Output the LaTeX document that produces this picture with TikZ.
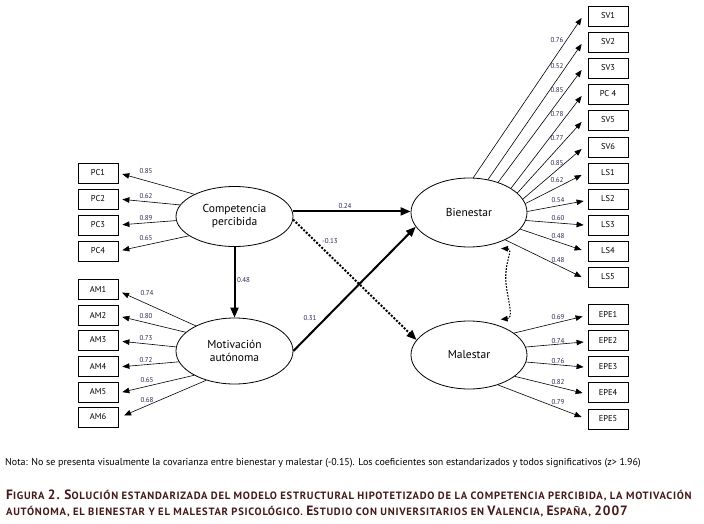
\documentclass[tikz,border=0pt]{standalone}
\usepackage{fontspec}
\setmainfont{PT Sans}
\usetikzlibrary{shapes.geometric,arrows.meta,calc}
\definecolor{coefc}{RGB}{40,40,85}
\definecolor{capc}{RGB}{70,25,25}
\newcommand\Cp[1]{{\fontsize{13.5}{15}\selectfont #1}}
\begin{document}
\begin{tikzpicture}[x=1pt,y=-1pt,
  lat/.style={ellipse,draw,line width=0.8pt,inner sep=0pt,align=center,font=\fontsize{11.5}{13}\selectfont},
  obs/.style={draw,line width=0.8pt,minimum width=40pt,minimum height=20pt,inner sep=0pt,font=\fontsize{8.5}{10}\selectfont},
  ld/.style={-{Triangle[length=7pt,width=5.5pt]},line width=0.6pt},
  ldl/.style={ld,shorten >=4pt},
  coef/.style={font=\fontsize{7}{8}\selectfont,text=coefc,inner sep=0pt},
  pth/.style={-{Triangle[length=10pt,width=8pt]},line width=2pt},
  pthd/.style={pth,dash pattern=on 2pt off 1.6pt},
  cov/.style={{Triangle[length=7pt,width=5.5pt]}-{Triangle[length=7pt,width=5.5pt]},line width=1.1pt,dash pattern=on 1.6pt off 1.4pt},
  captxt/.style={anchor=west,inner sep=0pt,text=capc,font=\fontsize{10.6}{14}\selectfont\bfseries\addfontfeature{LetterSpace=7}}
]
\useasboundingbox (0,0) rectangle (704,524);
% latent variables
\node[lat,minimum width=117pt,minimum height=60pt] (cp) at (234.5,216.5) {Competencia\\percibida};
\node[lat,minimum width=117pt,minimum height=66pt] (ma) at (234.5,351) {Motivación\\autónoma};
\node[lat,minimum width=116pt,minimum height=69pt] (bien) at (469,212.5) {Bienestar};
\node[lat,minimum width=116pt,minimum height=68pt] (mal) at (469,355) {Malestar};
% left indicators
\node[obs] (pc1) at (98,173) {PC1};
\node[obs] (pc2) at (98,199) {PC2};
\node[obs] (pc3) at (98,225) {PC3};
\node[obs] (pc4) at (98,251) {PC4};
\node[obs] (am1) at (98,289) {AM1};
\node[obs] (am2) at (98,315) {AM2};
\node[obs] (am3) at (98,340) {AM3};
\node[obs] (am4) at (98,366) {AM4};
\node[obs] (am5) at (98,392) {AM5};
\node[obs] (am6) at (98,417) {AM6};
% right indicators
\node[obs] (sv1) at (608,16) {SV1};
\node[obs] (sv2) at (608,42) {SV2};
\node[obs] (sv3) at (608,68) {SV3};
\node[obs] (pc4b) at (608,94) {PC 4};
\node[obs] (sv5) at (608,120) {SV5};
\node[obs] (sv6) at (608,147) {SV6};
\node[obs] (ls1) at (608,173) {LS1};
\node[obs] (ls2) at (608,199) {LS2};
\node[obs] (ls3) at (608,225) {LS3};
\node[obs] (ls4) at (608,251) {LS4};
\node[obs] (ls5) at (608,277) {LS5};
\node[obs] (epe1) at (608,314.5) {EPE1};
\node[obs] (epe2) at (608,340.5) {EPE2};
\node[obs] (epe3) at (608,366.5) {EPE3};
\node[obs] (epe4) at (608,392.5) {EPE4};
\node[obs] (epe5) at (608,419) {EPE5};
% loadings left
\draw[ldl] (cp.151) -- (pc1.east);
\draw[ldl] (cp.168) -- (pc2.east);
\draw[ldl] (cp.184.5) -- (pc3.east);
\draw[ldl] (cp.203) -- (pc4.east);
\draw[ldl] (ma.147) -- ([yshift=-2pt]am1.east);
\draw[ldl] (ma.159) -- ([yshift=-1pt]am2.east);
\draw[ldl] (ma.176) -- ([yshift=-1pt]am3.east);
\draw[ldl] (ma.191) -- ([yshift=-1pt]am4.east);
\draw[ldl] (ma.211) -- ([yshift=-1pt]am5.east);
\draw[ldl] (ma.226) -- ([xshift=2pt]am6.east);
% loadings right
\draw[ld] (bien.83.5) -- ([xshift=-6pt,yshift=-2pt]sv1.west);
\draw[ld] (bien.60.5) -- ([xshift=-6pt,yshift=-2pt]sv2.west);
\draw[ld] (bien.46) -- ([xshift=-6pt,yshift=-2pt]sv3.west);
\draw[ld] (bien.30) -- ([xshift=-6pt,yshift=-2pt]pc4b.west);
\draw[ld] (bien.22.6) -- ([xshift=-6pt,yshift=-2pt]sv5.west);
\draw[ld] (bien.14.5) -- ([xshift=-6pt,yshift=-2pt]sv6.west);
\draw[ld] (bien.9) -- ([xshift=-6pt,yshift=-2pt]ls1.west);
\draw[ld] (bien.1) -- ([xshift=-4pt,yshift=-2pt]ls2.west);
\draw[ld] (bien.-8) -- ([xshift=-4pt]ls3.west);
\draw[ld] (bien.-18.4) -- ([xshift=-6pt,yshift=1pt]ls4.west);
\draw[ld] (bien.-37.6) -- ([xshift=-6pt]ls5.west);
\draw[ld] (mal.26.6) -- ([xshift=-5pt,yshift=-2pt]epe1.west);
\draw[ld] (mal.8) -- ([xshift=-4pt,yshift=-1.5pt]epe2.west);
\draw[ld] (mal.-7) -- ([xshift=-4pt,yshift=-0.5pt]epe3.west);
\draw[ld] (mal.-25.6) -- ([xshift=-5pt,yshift=-0.5pt]epe4.west);
\draw[ld] (mal.-46) -- ([xshift=-6pt,yshift=2pt]epe5.west);
% loading coefficients
\node[coef] (l1) at (146,171.5) {0.85};
\node[coef] (l2) at (146,196.5) {0.62};
\node[coef] (l3) at (146,218.5) {0.89};
\node[coef] (l4) at (146,238.5) {0.65};
\node[coef] (l5) at (147,293) {0.74};
\node[coef] (l6) at (146,316) {0.80};
\node[coef] (l7) at (146,338) {0.73};
\node[coef] (l8) at (146,360) {0.72};
\node[coef] (l9) at (147,380) {0.65};
\node[coef] (l10) at (147,400) {0.68};
\node[coef] (r1) at (557,40.5) {0.76};
\node[coef] (r2) at (557,66.5) {0.52};
\node[coef] (r3) at (557,90) {0.85};
\node[coef] (r4) at (557,114) {0.78};
\node[coef] (r5) at (557,138) {0.77};
\node[coef] (r6) at (557,163) {0.85};
\node[coef] (r7) at (557,180) {0.62};
\node[coef] (r8) at (558,200) {0.54};
\node[coef] (r9) at (558,218) {0.60};
\node[coef] (r10) at (558,236) {0.48};
\node[coef] (r11) at (558,260) {0.48};
\node[coef] (r12) at (558,317) {0.69};
\node[coef] (r13) at (558,341) {0.74};
\node[coef] (r14) at (558,361) {0.76};
\node[coef] (r15) at (558,382) {0.82};
\node[coef] (r16) at (558,402) {0.79};
% structural paths
\draw[pth] (cp.5) -- (cp.5 -| bien.west);
\draw[pthd] (cp.-3) -- (mal.164);
\draw[pth] (ma.east) -- (bien.195);
\draw[pth] (cp.south) -- (ma.north);
\node[coef] (p1) at (345,206) {0.24};
\node[coef] (p2) at (330,241) {-0.13};
\node[coef] (p3) at (310,318) {0.31};
\node[coef] (p4) at (243.5,280) {0.48};
% covariance
\coordinate (c1) at ([xshift=2pt,yshift=-6pt]bien.-45);
\coordinate (c2) at ([xshift=2pt,yshift=6pt]mal.45);
\draw[cov] (c1) .. controls (514,249) and (504,262) .. (506,283) .. controls (508,302) and (514,318) .. (c2);
% notes
\node[anchor=west,inner sep=0pt,font=\fontsize{10}{12}\selectfont] (nota) at (5,463) {Nota: No se presenta visualmente la covarianza entre bienestar y malestar (-0.15). Los coeficientes son estandarizados y todos significativos (z> 1.96)};
\node[captxt] (cap1) at (6,495) {\Cp{F}IGURA \Cp{2.} \Cp{S}OLUCIÓN ESTANDARIZADA DEL MODELO ESTRUCTURAL HIPOTETIZADO DE LA COMPETENCIA PERCIBIDA, LA MOTIVACIÓN};
\node[captxt] (cap2) at (6,511) {AUTÓNOMA, EL BIENESTAR Y EL MALESTAR PSICOLÓGICO. \Cp{E}STUDIO CON UNIVERSITARIOS EN \Cp{V}ALENCIA, \Cp{E}SPAÑA, \Cp{2007}};
\end{tikzpicture}
\end{document}
